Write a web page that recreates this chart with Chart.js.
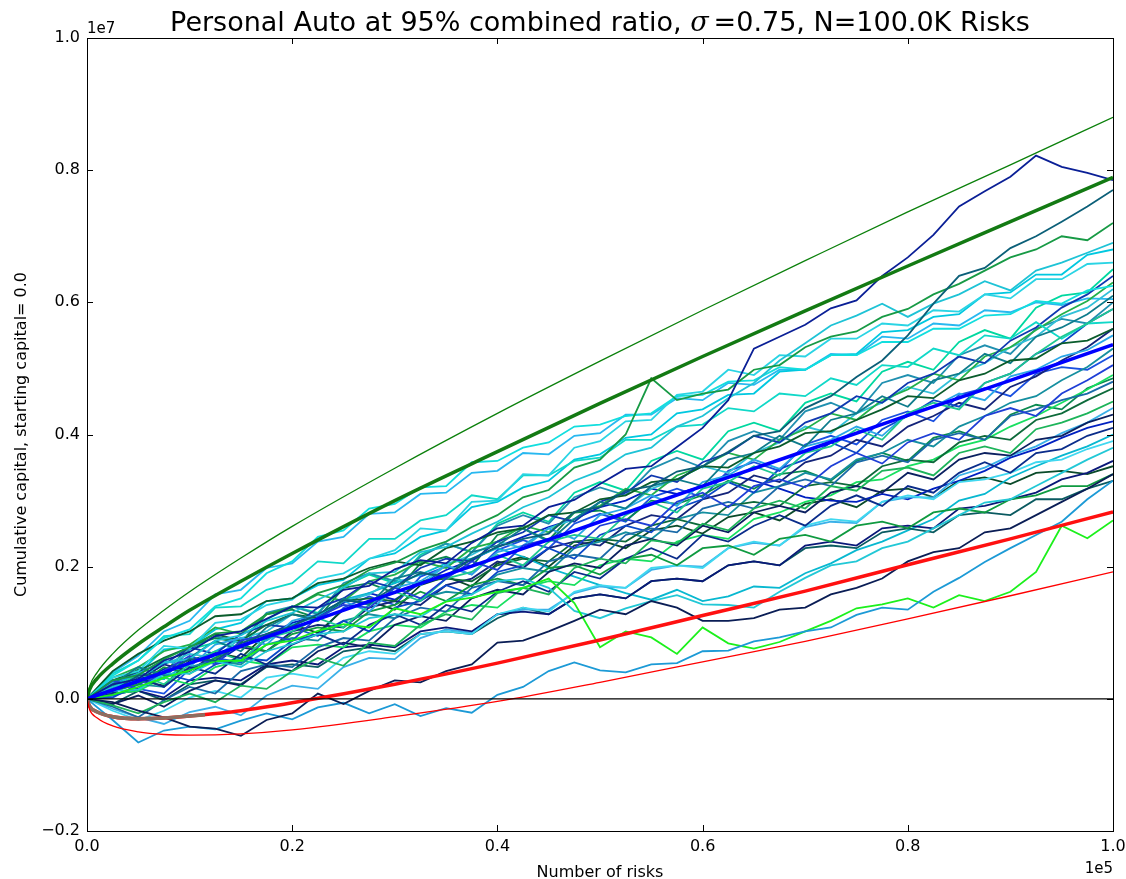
<!DOCTYPE html>
<html>
<head>
<meta charset="utf-8">
<script src="https://cdn.jsdelivr.net/npm/chart.js@4.4.1/dist/chart.umd.min.js"></script>
<style>
  html, body { margin: 0; padding: 0; background: #fff; }
  canvas { display: block; }
</style>
</head>
<body>
<canvas id="chartCapital" width="1126" height="879"></canvas>
<script>
// x in thousands of risks, y in units of 10,000 (so 1000 = 1e7)
const stepX = [0, 2.5, 5, 7.5, 10, 12.5, 15, 17.5, 20, 22.5, 25, 27.5, 30, 32.5, 35, 37.5, 40, 42.5, 45, 47.5,
  50, 52.5, 55, 57.5, 60, 62.5, 65, 67.5, 70, 72.5, 75, 77.5, 80, 82.5, 85, 87.5, 90, 92.5, 95, 97.5, 100];

const paths = [
  [0,22,30,58,71,95,102,121,140,138,165,171,196,210,205,236,258,262,290,301,325,348,352,381,410,452,530,548,566,591,603,640,668,702,745,768,790,822,805,796,785],
  [0,12,35,38,60,58,84,98,110,128,149,145,170,190,186,212,230,242,250,283,290,315,322,344,352,374,398,405,440,458,487,512,550,598,640,652,682,700,722,745,770],
  [0,28,36,60,78,99,102,128,138,160,172,195,206,225,238,260,278,305,316,350,362,400,485,452,462,468,498,505,532,548,556,578,590,612,628,648,668,680,700,694,720],
  [0,18,30,55,60,88,96,118,130,150,168,190,192,222,230,250,268,290,305,330,345,370,380,412,428,455,478,512,538,565,580,598,578,598,612,632,618,648,660,675,690],
  [0,35,58,92,105,140,152,190,208,245,255,288,295,320,322,358,360,380,388,412,415,428,432,458,460,480,482,502,498,520,520,540,540,560,560,580,582,602,598,618,625],
  [0,42,68,88,102,125,128,148,152,175,182,198,208,202,228,238,252,258,278,282,302,308,328,332,352,350,372,382,402,405,422,438,458,455,482,492,512,515,538,542,560],
  [0,-5,-18,-28,-42,-45,-56,-32,-22,8,-8,12,28,25,42,52,85,88,102,118,135,128,148,138,118,118,122,135,138,158,168,182,208,222,228,252,258,278,298,318,340],
  [0,-32,-66,-48,-42,-46,-33,-22,-31,-13,-6,-22,-8,-26,-14,-21,6,18,42,55,43,40,52,54,72,73,87,93,102,108,127,138,135,162,183,207,228,248,268,302,330],
  [0,6,18,32,43,57,58,82,88,103,113,108,137,128,147,153,162,168,182,145,78,102,93,68,108,84,76,86,102,118,137,143,152,138,157,148,162,192,262,243,270],
  [0,12,14,38,38,57,48,72,83,98,102,122,128,124,148,158,178,182,168,133,122,137,148,157,143,142,138,162,183,202,208,228,238,258,278,297,302,322,342,362,380],
  [0,28,15,42,65,52,88,98,88,124,142,138,168,152,182,208,195,232,242,228,262,272,262,298,312,290,322,332,320,352,372,356,388,402,392,428,440,428,462,482,505],
  [0,22,48,35,62,88,72,108,128,118,152,142,182,192,182,222,232,258,238,272,298,288,322,332,322,362,372,398,382,422,432,458,442,482,492,522,508,548,562,582,610],
  [0,-10,-22,-5,8,-5,20,15,42,62,50,85,80,112,128,120,160,168,158,198,212,205,240,235,265,255,288,300,288,322,315,345,350,338,372,382,372,408,418,432,450],
  [0,8,32,18,48,38,68,52,82,98,82,112,128,112,142,132,162,178,162,192,182,212,228,212,248,238,262,278,262,292,308,292,322,312,342,358,342,372,378,398,410],
  [0,32,42,80,76,115,120,142,150,182,190,212,225,258,255,298,300,340,338,380,390,420,422,460,465,498,490,520,518,545,545,568,565,588,586,612,606,635,635,658,660],
  [0,14,38,22,52,72,58,92,102,122,108,142,162,148,182,192,218,202,238,248,242,278,298,282,318,328,352,338,372,382,408,392,432,448,438,478,492,522,548,568,590],
  [0,-8,5,-12,12,28,20,50,42,72,85,78,112,125,118,152,165,158,192,205,198,232,242,232,262,252,282,292,282,312,322,312,342,332,362,372,368,392,398,418,430],
  [0,24,38,58,48,82,92,82,118,128,148,132,168,178,202,188,222,232,258,242,278,288,308,292,328,338,362,348,382,392,412,398,432,442,462,452,488,498,518,528,550],
  [0,-12,-28,-2,18,8,42,52,48,78,92,88,122,138,132,168,178,172,208,218,212,248,258,252,288,298,288,322,332,322,358,368,358,392,402,392,428,438,452,462,480],
  [0,12,22,48,38,62,82,72,98,108,102,132,142,162,148,172,182,172,198,202,188,212,218,202,228,232,218,242,248,238,262,268,258,282,288,282,302,308,322,322,340],
  [0,38,58,95,98,138,140,165,175,208,205,242,242,270,278,308,302,338,338,360,365,392,392,412,415,440,435,462,458,485,475,505,502,530,520,550,545,570,545,568,570],
  [0,2,22,38,28,52,62,58,88,98,118,102,138,148,172,158,192,202,228,212,248,262,252,288,302,328,312,348,362,388,372,408,428,452,442,478,492,522,538,568,590],
  [0,28,42,62,78,98,88,112,128,122,148,152,148,178,182,178,202,212,208,238,242,238,262,272,262,292,298,292,322,328,322,352,362,358,388,398,392,422,432,452,470],
  [0,-18,-32,-18,2,12,2,32,38,32,62,72,68,98,102,98,128,138,132,162,172,168,198,202,198,228,238,232,262,272,268,298,308,302,328,332,342,358,362,378,390],
  [0,22,42,52,78,68,98,112,108,138,152,178,168,198,212,208,238,252,278,268,298,312,338,328,358,372,398,388,418,432,458,448,478,492,518,508,542,562,592,612,640],
  [0,12,22,18,48,58,52,82,92,88,118,128,122,152,162,158,188,198,192,228,238,252,242,272,282,278,312,322,342,332,362,372,392,382,412,428,448,458,482,502,530],
  [0,8,12,32,22,48,58,52,78,82,78,102,112,108,132,142,138,168,178,172,202,212,208,238,248,242,272,282,298,308,328,332,352,362,382,392,412,428,448,468,490],
  [0,18,28,52,42,68,78,72,102,112,108,138,148,142,172,182,208,198,228,238,232,262,278,272,302,312,338,328,358,368,392,382,412,428,448,438,472,488,512,532,560],
  [0,32,48,72,82,108,98,128,138,158,148,178,188,208,198,228,238,262,252,282,292,318,308,338,352,372,362,392,408,432,422,452,468,492,482,518,532,558,582,602,630],
  [0,22,38,75,78,105,115,148,152,172,180,212,220,245,255,290,298,320,330,362,370,395,400,432,438,460,462,495,498,520,522,555,558,578,582,612,615,642,642,672,680],
  [0,8,12,2,28,32,28,52,58,52,78,82,78,102,108,102,128,132,128,152,158,152,178,182,178,202,208,202,232,238,232,258,262,258,288,292,302,312,332,342,360],
  [0,-15,-28,-38,-20,-12,-25,5,20,15,48,62,60,92,105,100,128,135,135,160,170,168,195,202,200,228,236,232,260,268,266,298,305,305,338,350,368,382,402,418,440],
  [0,-8,12,-2,22,28,22,48,52,48,72,78,72,98,102,98,122,138,128,152,158,152,178,182,178,202,208,202,228,232,228,252,258,252,278,282,278,302,302,318,330],
  [0,12,28,52,68,62,92,102,128,118,148,158,182,172,202,218,238,228,258,272,298,288,318,332,352,342,372,388,412,402,432,448,472,462,492,508,532,548,578,592,620],
  [0,15,35,30,55,72,92,88,112,125,150,160,175,188,205,212,228,215,198,185,172,160,150,165,148,155,170,168,190,205,225,238,255,272,300,310,335,352,368,382,400],
  [0,10,25,45,60,55,80,95,115,125,145,160,150,175,195,210,230,245,260,272,290,300,318,310,322,340,330,318,305,300,298,310,302,318,330,345,365,378,395,410,420],
  [0,20,45,38,80,92,85,128,135,122,168,175,160,205,215,200,248,258,240,282,285,270,300,295,308,330,318,340,345,330,360,372,360,395,405,392,430,445,438,470,485],
  [0,40,65,102,118,158,165,198,205,238,245,280,282,310,312,342,345,372,370,398,402,430,430,455,452,478,475,498,498,522,520,548,545,568,565,588,585,600,596,606,605],
  [0,12,28,20,58,70,62,98,112,100,135,148,135,172,185,170,205,215,200,232,240,228,255,262,250,275,282,270,295,302,290,315,318,305,330,335,325,342,345,340,352],
  [0,5,15,8,45,62,55,90,108,95,138,155,142,185,200,188,225,240,228,265,280,268,305,318,305,345,358,345,385,398,385,422,435,420,460,470,458,492,502,498,520],
  [0,25,40,30,75,95,85,130,140,128,175,190,178,215,235,222,262,278,265,305,320,308,348,365,350,390,405,392,435,448,432,478,490,478,520,535,522,560,575,568,600],
  [0,18,40,32,75,85,78,120,140,130,170,188,175,218,235,222,265,282,268,312,328,315,360,375,362,405,418,405,448,462,450,495,510,498,540,558,545,592,610,615,650]
];

const pathColors = [
  '#0a1f96', '#0b5f78', '#179a45', '#1ec3d6', '#12dede', '#0a5c2c', '#0a1d55', '#1c9ad6', '#1cf01c', '#22c8d6',
  '#1f3fd6', '#0e7c8c', '#1db45a', '#0a2c8a', '#2ad4e4', '#1ec890', '#0b2060', '#2aa6e6', '#1a6aa8', '#0f9a40',
  '#10d8c8', '#0a48c8', '#0d6a3a', '#40d8f0', '#1038b0', '#158fa0', '#18e060', '#14247a', '#22b04a', '#00c8e0',
  '#0a1878', '#3ab0e8', '#0a5a60', '#30c0d8', '#08b8d0', '#0020c0', '#0a8a50', '#28b8f0', '#0a4a2a', '#1a50e0',
  '#2090b0', '#00d8a0'
];

// smooth reference curves
const curveX = [0, 0.25, 1, 2.5, 5, 7.5, 10, 15, 20, 30, 40, 50, 60, 70, 80, 90, 100];
const meanY = [0, 1.3, 5.4, 13.4, 27, 40, 54, 80, 107, 161, 214, 268, 322, 375, 429, 482, 536];
const upperThick = [0, 14, 31, 53, 83, 109, 134, 178, 220, 300, 374, 447, 518, 587, 655, 722, 789];
const upperThin = [0, 18.5, 40, 68, 104, 134, 162, 213, 261, 349, 432, 511, 588, 663, 737, 808, 880];
const lowerThick = [0, -11, -20, -27, -30, -29, -26, -18, -6, 22, 54, 89, 126, 163, 203, 242, 283];
const lowerThin = [0, -16, -29, -41, -50, -54, -55, -53, -47, -27, -4, 25, 56, 87, 121, 156, 192];
const brownX = [0, 0.25, 1, 2.5, 5, 7.5, 10, 11.5];
const brownY = [0, -11, -20, -27, -30, -29, -26, -24];

const xTicks = [0, 20, 40, 60, 80, 100];
const yTicks = [-200, 0, 200, 400, 600, 800, 1000];

function pts(xs, ys) {
  return xs.map((x, i) => ({x: x, y: ys[i]}));
}

function fmt(v) {
  const s = Math.abs(v).toFixed(1);
  return v < -1e-9 ? '\u2212' + s : s;
}

const datasets = [];

datasets.push({data: pts([0, 100], [0, 0]), borderColor: '#000', borderWidth: 1.2, order: 0});
datasets.push({data: pts(curveX, upperThin), borderColor: '#0b800b', borderWidth: 1.3, cubicInterpolationMode: 'monotone', order: 0});
datasets.push({data: pts(curveX, lowerThin), borderColor: '#ff0000', borderWidth: 1.3, cubicInterpolationMode: 'monotone', order: 0});
datasets.push({data: pts(brownX, brownY), borderColor: '#8c6e60', borderWidth: 3.5, cubicInterpolationMode: 'monotone', order: 0});
datasets.push({data: pts(curveX, meanY), borderColor: '#0000ff', borderWidth: 3.5, order: 0});
datasets.push({data: pts(curveX, upperThick), borderColor: '#137a13', borderWidth: 3.5, cubicInterpolationMode: 'monotone', order: 0});
datasets.push({data: pts(curveX, lowerThick), borderColor: '#ff1010', borderWidth: 3.5, cubicInterpolationMode: 'monotone', order: 0});

paths.forEach((p, i) => {
  datasets.push({data: pts(stepX, p), borderColor: pathColors[i % pathColors.length], borderWidth: 1.8, order: 1});
});

const frame = {
  id: 'frame',
  afterDraw(chart) {
    const c = chart.ctx;
    const a = chart.chartArea;
    const xs = chart.scales.x;
    const ys = chart.scales.y;
    c.save();
    c.strokeStyle = '#000';
    c.lineWidth = 1;
    c.strokeRect(a.left + 0.5, a.top + 0.5, a.right - a.left, a.bottom - a.top);
    c.beginPath();
    xTicks.forEach(v => {
      const px = Math.round(xs.getPixelForValue(v)) + 0.5;
      c.moveTo(px, a.bottom); c.lineTo(px, a.bottom - 6);
      c.moveTo(px, a.top); c.lineTo(px, a.top + 6);
    });
    yTicks.forEach(v => {
      const py = Math.round(ys.getPixelForValue(v)) + 0.5;
      c.moveTo(a.left, py); c.lineTo(a.left + 6, py);
      c.moveTo(a.right, py); c.lineTo(a.right - 6, py);
    });
    c.stroke();

    c.fillStyle = '#000';
    c.textBaseline = 'alphabetic';
    // title, sigma in italic
    const t1 = 'Personal Auto at 95% combined ratio, ';
    const t2 = '\u03c3';
    const t3 = '=0.75, N=100.0K Risks';
    c.font = '27px "DejaVu Sans"';
    const w1 = c.measureText(t1).width;
    const w3 = c.measureText(t3).width;
    c.font = 'italic 27px "DejaVu Serif"';
    const w2 = c.measureText(t2).width + 5;
    const tx = (a.left + a.right) / 2 - (w1 + w2 + w3) / 2;
    c.textAlign = 'left';
    c.font = '27px "DejaVu Sans"';
    c.fillText(t1, tx, 31);
    c.font = 'italic 27px "DejaVu Serif"';
    c.fillText(t2, tx + w1, 31);
    c.font = '27px "DejaVu Sans"';
    c.fillText(t3, tx + w1 + w2, 31);

    // offset texts
    c.font = '15px "DejaVu Sans"';
    c.textAlign = 'left';
    c.fillText('1e7', a.left, 33);
    c.textAlign = 'right';
    c.fillText('1e5', a.right, 873);

    // axis titles
    c.font = '16px "DejaVu Sans"';
    c.textAlign = 'center';
    c.fillText('Number of risks', (a.left + a.right) / 2, 877);
    c.translate(26, (a.top + a.bottom) / 2);
    c.rotate(-Math.PI / 2);
    c.fillText('Cumulative capital, starting capital= 0.0', 0, 0);
    c.restore();
  }
};

new Chart(document.getElementById('chartCapital'), {
  type: 'line',
  data: {datasets: datasets},
  options: {
    responsive: false,
    animation: false,
    devicePixelRatio: 1,
    layout: {padding: {top: 38, right: 13, left: 0, bottom: 0}},
    elements: {point: {radius: 0}, line: {tension: 0}},
    plugins: {legend: {display: false}, tooltip: {enabled: false}, title: {display: false}},
    scales: {
      x: {
        type: 'linear', min: 0, max: 100,
        afterFit(s) { s.height = 48; s.paddingLeft = 0; s.paddingRight = 0; },
        grid: {display: false, drawTicks: false},
        border: {display: false},
        ticks: {stepSize: 20, padding: 6, color: '#000', maxRotation: 0,
          font: {family: 'DejaVu Sans', size: 16},
          callback: v => fmt(v / 100)}
      },
      y: {
        type: 'linear', min: -200, max: 1000,
        afterFit(s) { s.width = 87; s.paddingTop = 0; s.paddingBottom = 0; },
        grid: {display: false, drawTicks: false},
        border: {display: false},
        ticks: {stepSize: 200, padding: 7, color: '#000',
          font: {family: 'DejaVu Sans', size: 16},
          callback: v => fmt(v / 1000)}
      }
    }
  },
  plugins: [frame]
});
</script>
</body>
</html>
